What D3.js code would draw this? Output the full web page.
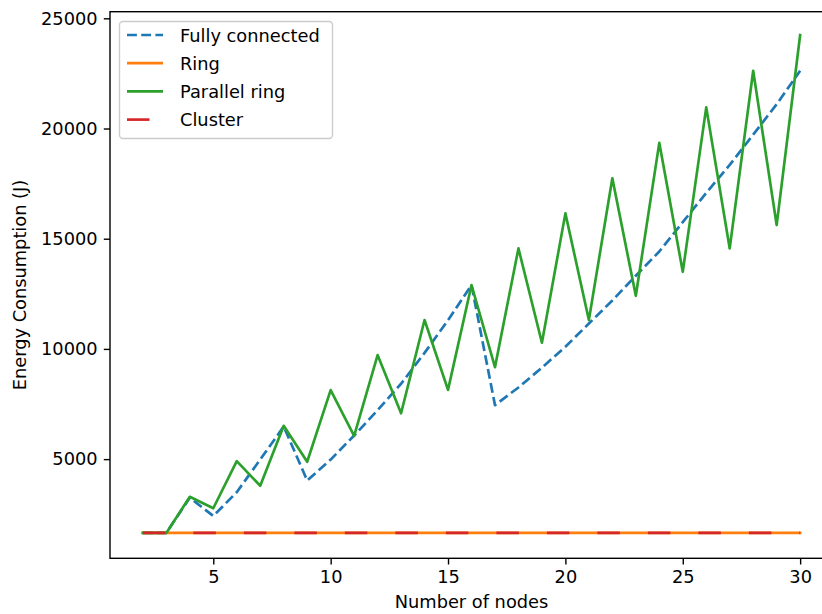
<!DOCTYPE html>
<html>
<head>
<meta charset="utf-8">
<script src="https://cdn.jsdelivr.net/npm/d3@7"></script>
<style>
  body { margin: 0; background: #fff; }
  text { font-family: "DejaVu Sans", sans-serif; fill: #000; }
</style>
</head>
<body>
<svg id="drawing_region"></svg>
<script>
// data
const nodes = d3.range(2, 31);
const fullyConnected = [1650, 1650, 3250, 2420, 3500, 4980, 6480, 4030, 4980, 6070, 7220, 8420, 9820, 11300, 12900,
    7450, 8250, 9150, 10100, 11150, 12200, 13320, 14420, 15750, 17080, 18350, 19720, 21100, 22620];
const ring = nodes.map(() => 1650);
const parallelRing = [1650, 1650, 3290, 2770, 4910, 3790, 6510, 4880, 8130, 6050, 9720, 7080, 11310, 8140, 12900,
    9170, 14560, 10280, 16150, 11310, 17740, 12410, 19350, 13500, 20960, 14560, 22620, 15620, 24240];
const cluster = nodes.map(() => 1650);

const xTicks = [5, 10, 15, 20, 25, 30];
const yTicks = [5000, 10000, 15000, 20000, 25000];

const series = [
    {label: 'Fully connected', values: fullyConnected, color: '#1f77b4', dash: '9.9,4.3'},
    {label: 'Ring', values: ring, color: '#ff7f0e', dash: null},
    {label: 'Parallel ring', values: parallelRing, color: '#2ca02c', dash: null},
    {label: 'Cluster', values: cluster, color: '#d62728', dash: '22.5,28'}
];

const config = {
    width: 822,
    height: 614,
    left: 110, right: 833, top: 11.7, bottom: 558.3,
    fontSize: 17.8
};

const svg = d3.select('#drawing_region')
    .attr('width', config.width)
    .attr('height', config.height);

const xscale = d3.scaleLinear()
    .domain([0.6, 31.4])
    .range([config.left, config.right]);

const yscale = d3.scaleLinear()
    .domain([500, 25300])
    .range([config.bottom, config.top]);

// lines
const line = d3.line()
    .x((d, i) => xscale(nodes[i]))
    .y(d => yscale(d));

series.forEach(s => {
    svg.append('path')
        .datum(s.values)
        .attr('d', line)
        .attr('fill', 'none')
        .attr('stroke', s.color)
        .attr('stroke-width', 2.67)
        .attr('stroke-dasharray', s.dash)
        .attr('stroke-linejoin', 'round')
        .attr('stroke-linecap', s.dash ? 'butt' : 'square');
});

// axes
const xaxis = d3.axisBottom(xscale)
    .tickValues(xTicks)
    .tickFormat(d3.format('d'))
    .tickSize(6.2)
    .tickPadding(6.2)
    .tickSizeOuter(0);

const yaxis = d3.axisLeft(yscale)
    .tickValues(yTicks)
    .tickFormat(d3.format('d'))
    .tickSize(6.2)
    .tickPadding(6.2)
    .tickSizeOuter(0);

const gx = svg.append('g')
    .attr('transform', `translate(0, ${config.bottom})`)
    .call(xaxis);

const gy = svg.append('g')
    .attr('transform', `translate(${config.left}, 0)`)
    .call(yaxis);

[gx, gy].forEach(g => {
    g.select('.domain').remove();
    g.selectAll('.tick line').attr('stroke', '#000').attr('stroke-width', 1.4);
    g.selectAll('.tick text')
        .style('font-family', '"DejaVu Sans", sans-serif')
        .style('font-size', config.fontSize + 'px')
        .attr('fill', '#000');
});

// frame
svg.append('rect')
    .attr('x', config.left)
    .attr('y', config.top)
    .attr('width', config.right - config.left)
    .attr('height', config.bottom - config.top)
    .attr('fill', 'none')
    .attr('stroke', '#000')
    .attr('stroke-width', 1.4);

// axis labels
svg.append('text')
    .attr('x', (config.left + config.right) / 2)
    .attr('y', 608)
    .attr('text-anchor', 'middle')
    .style('font-size', config.fontSize + 'px')
    .text('Number of nodes');

svg.append('text')
    .attr('transform', `translate(26, ${(config.top + config.bottom) / 2}) rotate(-90)`)
    .attr('text-anchor', 'middle')
    .style('font-size', config.fontSize + 'px')
    .text('Energy Consumption (J)');

// legend
const legend = svg.append('g')
    .attr('transform', 'translate(119.5, 21.5)');

legend.append('rect')
    .attr('width', 213)
    .attr('height', 117)
    .attr('rx', 3.5)
    .attr('fill', 'white')
    .attr('fill-opacity', 0.8)
    .attr('stroke', '#cccccc')
    .attr('stroke-width', 1.4);

const items = legend.selectAll('.item')
    .data(series)
    .enter()
    .append('g')
    .attr('transform', (d, i) => `translate(0, ${13.5 + i * 28.2})`);

items.append('line')
    .attr('x1', 7.5)
    .attr('x2', 43.5)
    .attr('stroke', d => d.color)
    .attr('stroke-width', 2.67)
    .attr('stroke-dasharray', d => d.dash);

items.append('text')
    .attr('x', 60.5)
    .attr('y', 6.5)
    .style('font-size', config.fontSize + 'px')
    .text(d => d.label);
</script>
</body>
</html>
